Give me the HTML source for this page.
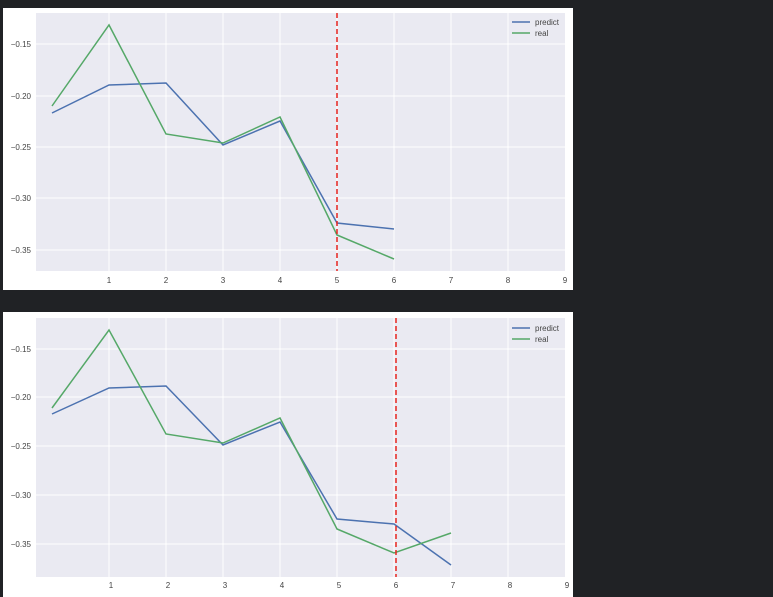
<!DOCTYPE html>
<html><head><style>
body{margin:0;background:#202225;width:773px;height:597px;overflow:hidden}
svg{position:absolute;left:0;top:0}
text{font-family:"Liberation Sans",sans-serif;font-size:8px;fill:#444}
</style></head><body>
<svg width="773" height="597">
<rect x="3" y="8" width="570" height="282" fill="#fff"/>
<rect x="3" y="312" width="570" height="285" fill="#fff"/>
<!-- chart 1 -->
<rect x="36" y="13" width="529" height="258" fill="#eaeaf2"/>
<g stroke="#fff" stroke-width="1">
<line x1="36" x2="565" y1="44" y2="44"/><line x1="36" x2="565" y1="96" y2="96"/><line x1="36" x2="565" y1="147" y2="147"/><line x1="36" x2="565" y1="198" y2="198"/><line x1="36" x2="565" y1="250" y2="250"/>
<line x1="109" x2="109" y1="13" y2="271"/><line x1="166" x2="166" y1="13" y2="271"/><line x1="223" x2="223" y1="13" y2="271"/><line x1="280" x2="280" y1="13" y2="271"/><line x1="337" x2="337" y1="13" y2="271"/><line x1="394" x2="394" y1="13" y2="271"/><line x1="451" x2="451" y1="13" y2="271"/><line x1="508" x2="508" y1="13" y2="271"/>
</g>
<polyline fill="none" stroke="#4c72b0" stroke-width="1.5" points="52,113 109,85 166,83 223,145 280,121 337,223 394,229"/>
<polyline fill="none" stroke="#55a868" stroke-width="1.5" points="52,106 109,25 166,134 223,143 280,117 337,235 394,259"/>
<line x1="337" x2="337" y1="13" y2="271" stroke="#e8251f" stroke-width="1.5" stroke-dasharray="5,3"/>
<g text-anchor="end"><text x="31" y="47">−0.15</text><text x="31" y="99">−0.20</text><text x="31" y="150">−0.25</text><text x="31" y="201">−0.30</text><text x="31" y="253">−0.35</text></g>
<g text-anchor="middle"><text x="109" y="283">1</text><text x="166" y="283">2</text><text x="223" y="283">3</text><text x="280" y="283">4</text><text x="337" y="283">5</text><text x="394" y="283">6</text><text x="451" y="283">7</text><text x="508" y="283">8</text><text x="565" y="283">9</text></g>
<line x1="512" x2="530" y1="22" y2="22" stroke="#4c72b0" stroke-width="1.5"/><text x="535" y="25">predict</text>
<line x1="512" x2="530" y1="33" y2="33" stroke="#55a868" stroke-width="1.5"/><text x="535" y="36">real</text>
<!-- chart 2 -->
<rect x="36" y="318" width="529" height="259" fill="#eaeaf2"/>
<g stroke="#fff" stroke-width="1">
<line x1="36" x2="565" y1="349" y2="349"/><line x1="36" x2="565" y1="397" y2="397"/><line x1="36" x2="565" y1="446" y2="446"/><line x1="36" x2="565" y1="495" y2="495"/><line x1="36" x2="565" y1="544" y2="544"/>
<line x1="109" x2="109" y1="318" y2="577"/><line x1="166" x2="166" y1="318" y2="577"/><line x1="223" x2="223" y1="318" y2="577"/><line x1="280" x2="280" y1="318" y2="577"/><line x1="337" x2="337" y1="318" y2="577"/><line x1="394" x2="394" y1="318" y2="577"/><line x1="451" x2="451" y1="318" y2="577"/><line x1="508" x2="508" y1="318" y2="577"/>
</g>
<polyline fill="none" stroke="#4c72b0" stroke-width="1.5" points="52,414 109,388 166,386 223,445 280,422 337,519 394,524 451,565"/>
<polyline fill="none" stroke="#55a868" stroke-width="1.5" points="52,408 109,330 166,434 223,443 280,418 337,529 394,553 451,533"/>
<line x1="396" x2="396" y1="318" y2="577" stroke="#e8251f" stroke-width="1.5" stroke-dasharray="5,3"/>
<g text-anchor="end"><text x="31" y="352">−0.15</text><text x="31" y="400">−0.20</text><text x="31" y="449">−0.25</text><text x="31" y="498">−0.30</text><text x="31" y="547">−0.35</text></g>
<g text-anchor="middle"><text x="111" y="588">1</text><text x="168" y="588">2</text><text x="225" y="588">3</text><text x="282" y="588">4</text><text x="339" y="588">5</text><text x="396" y="588">6</text><text x="453" y="588">7</text><text x="510" y="588">8</text><text x="567" y="588">9</text></g>
<line x1="512" x2="530" y1="328" y2="328" stroke="#4c72b0" stroke-width="1.5"/><text x="535" y="331">predict</text>
<line x1="512" x2="530" y1="339" y2="339" stroke="#55a868" stroke-width="1.5"/><text x="535" y="342">real</text>
</svg>
</body></html>
